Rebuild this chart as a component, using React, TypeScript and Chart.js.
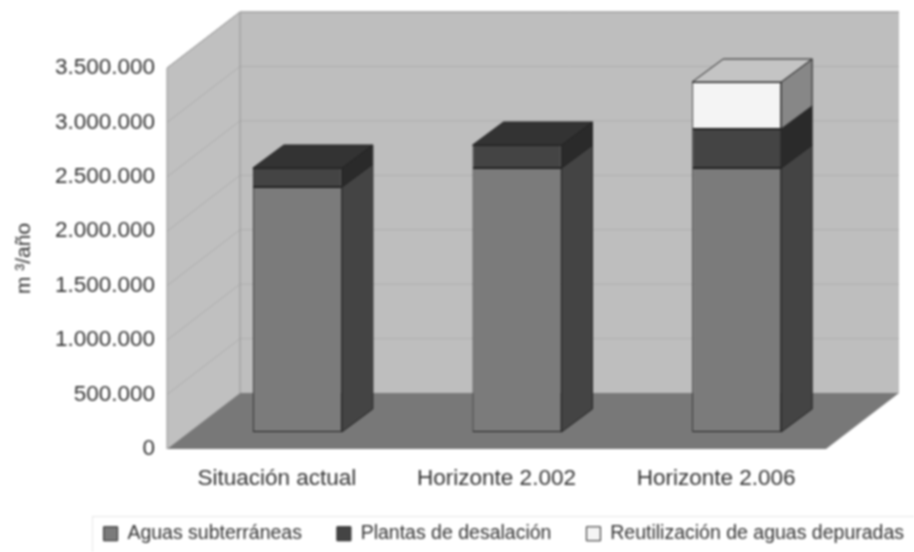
import React, { useEffect, useRef } from "react";
import { Chart, registerables } from "chart.js";

Chart.register(...registerables);

const categories = ["Situación actual", "Horizonte 2.002", "Horizonte 2.006"];
const aguasSubterraneas = [2250000, 2425000, 2425000];
const plantasDesalacion = [175000, 211000, 358000];
const reutilizacion = [null, null, 432000];
const seriesNames = ["Aguas subterráneas", "Plantas de desalación", "Reutilización de aguas depuradas"];
const frontColors = ["#7b7b7b", "#444444", "#f4f4f4"];
const sideColors = ["#444444", "#2a2a2a", "#878787"];
const topColors = ["#6a6a6a", "#333333", "#c4c4c4"];

const DX = 73, DY = 56;
const BAR_DX = 20.5, BAR_DY = 17;
const BAR_DEPTH_X = 31, BAR_DEPTH_Y = 23;
const LEGEND_SHIFT = 25;

function poly(ctx: CanvasRenderingContext2D, pts: number[][], fill: string, stroke?: string) {
  ctx.beginPath();
  pts.forEach((p, i) => (i ? ctx.lineTo(p[0], p[1]) : ctx.moveTo(p[0], p[1])));
  ctx.closePath();
  ctx.fillStyle = fill;
  ctx.fill();
  if (stroke) {
    ctx.strokeStyle = stroke;
    ctx.lineWidth = 1;
    ctx.stroke();
  }
}

const scene3d = {
  id: "scene3d",
  afterLayout(chart: any) {
    const l = chart.legend;
    l.top = 489;
    l.left += LEGEND_SHIFT;
    l.right += LEGEND_SHIFT;
  },
  beforeDatasetsDraw(chart: any) {
    const { ctx, chartArea: a, scales } = chart;
    const y = scales.y;
    ctx.save();
    poly(ctx, [[a.left + DX, a.top - DY], [a.right + DX, a.top - DY], [a.right + DX, a.bottom - DY], [a.left + DX, a.bottom - DY]], "#bebebe");
    poly(ctx, [[a.left, a.top], [a.left + DX, a.top - DY], [a.left + DX, a.bottom - DY], [a.left, a.bottom]], "#c0c0c0");
    ctx.strokeStyle = "#aeaeae";
    ctx.lineWidth = 1;
    for (const t of y.ticks) {
      const py = y.getPixelForValue(t.value);
      if (t.value === 0) continue;
      ctx.beginPath();
      ctx.moveTo(a.left, py);
      ctx.lineTo(a.left + DX, py - DY);
      ctx.lineTo(a.right + DX, py - DY);
      ctx.stroke();
    }
    ctx.strokeStyle = "#969696";
    ctx.beginPath();
    ctx.moveTo(a.left, a.bottom);
    ctx.lineTo(a.left, a.top);
    ctx.lineTo(a.left + DX, a.top - DY);
    ctx.lineTo(a.right + DX, a.top - DY);
    ctx.moveTo(a.left + DX, a.top - DY);
    ctx.lineTo(a.left + DX, a.bottom - DY);
    ctx.stroke();
    poly(ctx, [[a.left, a.bottom], [a.right, a.bottom], [a.right + DX, a.bottom - DY], [a.left + DX, a.bottom - DY]], "#787878");

    // bar sides and tops, taken from the bar elements
    ctx.translate(BAR_DX, -BAR_DY);
    const n = chart.data.labels.length;
    for (let i = 0; i < n; i++) {
      let topDs = -1;
      chart.data.datasets.forEach((d: any, ds: number) => {
        if (d.data[i] == null) return;
        topDs = ds;
        const el = chart.getDatasetMeta(ds).data[i];
        const r = el.x + el.width / 2;
        poly(ctx, [[r, el.y], [r + BAR_DEPTH_X, el.y - BAR_DEPTH_Y], [r + BAR_DEPTH_X, el.base - BAR_DEPTH_Y], [r, el.base]], sideColors[ds], "#222222");
      });
      if (topDs >= 0) {
        const el = chart.getDatasetMeta(topDs).data[i];
        const l = el.x - el.width / 2, r = el.x + el.width / 2;
        poly(ctx, [[l, el.y], [l + BAR_DEPTH_X, el.y - BAR_DEPTH_Y], [r + BAR_DEPTH_X, el.y - BAR_DEPTH_Y], [r, el.y]], topColors[topDs], "#222222");
      }
    }
    ctx.restore();
    ctx.save();
    ctx.translate(BAR_DX, -BAR_DY);
  },
  afterDatasetsDraw(chart: any) {
    chart.ctx.restore();
  },
  afterDraw(chart: any) {
    const { ctx } = chart;
    ctx.save();
    ctx.strokeStyle = "#e6e6e6";
    ctx.lineWidth = 1;
    ctx.strokeRect(92.5, 516.5, chart.width, chart.height);
    ctx.restore();
  },
};

export default function App() {
  const ref = useRef<HTMLCanvasElement>(null);
  useEffect(() => {
    const chart = new Chart(ref.current as HTMLCanvasElement, {
      type: "bar",
      plugins: [scene3d as any],
      data: {
        labels: categories,
        datasets: [aguasSubterraneas, plantasDesalacion, reutilizacion].map((data, i) => ({
          label: seriesNames[i],
          data,
          backgroundColor: frontColors[i],
          borderColor: "#222222",
          borderWidth: 1,
          borderSkipped: false,
          barPercentage: 0.405,
          categoryPercentage: 1,
        })) as any,
      },
      options: {
        responsive: false,
        animation: false,
        layout: { padding: { top: 68, right: 0, left: 0, bottom: 0 } },
        plugins: {
          tooltip: { enabled: false },
          legend: {
            position: "bottom",
            align: "end",
            maxHeight: 60,
            labels: {
              font: { family: "Liberation Sans", size: 19.5 },
              color: "#333333",
              boxWidth: 14,
              boxHeight: 14,
              padding: 35,
            },
          },
        },
        scales: {
          x: {
            stacked: true,
            grid: { display: false, drawTicks: false },
            border: { display: false },
            ticks: { font: { family: "Liberation Sans", size: 22.5 }, color: "#333333", padding: 16, maxRotation: 0 },
            afterFit(s: any) { s.height = 43; },
          },
          y: {
            stacked: true,
            min: 0,
            max: 3500000,
            grid: { display: false, drawTicks: false },
            border: { display: false },
            title: { display: true, text: "m ³/año", font: { family: "Liberation Sans", size: 21 }, color: "#333333", padding: { top: 12, bottom: 0 } },
            ticks: {
              stepSize: 500000,
              padding: 12,
              font: { family: "Liberation Sans", size: 22.5 },
              color: "#333333",
              callback: (v: any) => String(v).replace(/\B(?=(\d{3})+$)/g, "."),
            },
            afterFit(s: any) { s.width = 167; },
          },
          y2: {
            position: "right",
            grid: { display: false, drawTicks: false },
            border: { display: false },
            ticks: { display: false },
            afterFit(s: any) { s.width = 88; },
          },
        },
      } as any,
    });
    return () => chart.destroy();
  }, []);
  return (
    <canvas
      ref={ref}
      width={914}
      height={552}
      style={{ position: "fixed", left: 0, top: 0, width: 914, height: 552, background: "#fff", filter: "blur(0.9px)" }}
    />
  );
}
